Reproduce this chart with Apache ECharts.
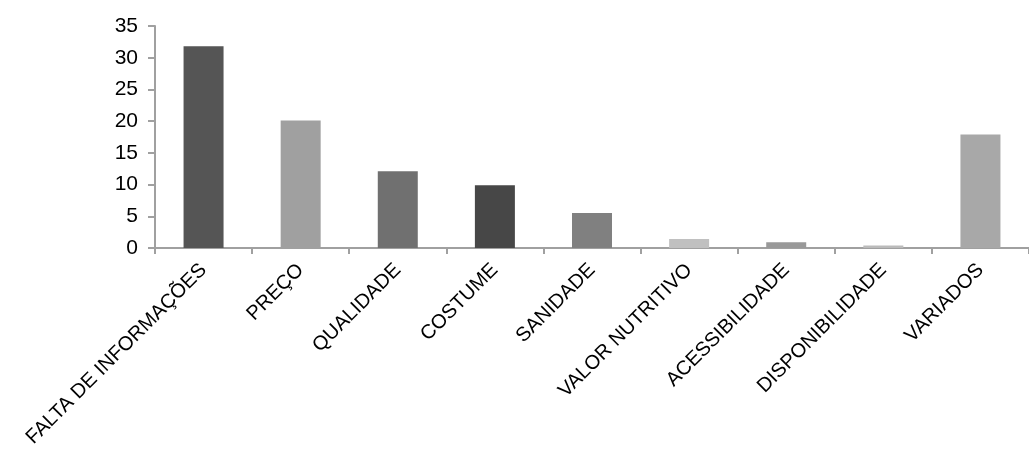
<!DOCTYPE html>
<html>
<head>
<meta charset="utf-8">
<script src="https://cdn.jsdelivr.net/npm/echarts@6/dist/echarts.min.js"></script>
<style>
  html, body { margin: 0; padding: 0; background: #fff; }
  #chart { width: 1029px; height: 459px; }
</style>
</head>
<body>
<div id="chart"></div>
<script>
// categorias e valores
var categorias = ['FALTA DE INFORMAÇÕES', 'PREÇO', 'QUALIDADE', 'COSTUME', 'SANIDADE',
    'VALOR NUTRITIVO', 'ACESSIBILIDADE', 'DISPONIBILIDADE', 'VARIADOS'];
var valores = [31.8, 20.1, 12.1, 9.9, 5.5, 1.4, 0.9, 0.4, 17.9];
var cores = ['#555555', '#a0a0a0', '#707070', '#474747', '#808080',
    '#c0c0c0', '#999999', '#bbbbbb', '#a8a8a8'];

var myChart = echarts.init(document.getElementById('chart'));

var dados = [];
for (var i = 0; i < valores.length; i++) {
    dados.push({ value: valores[i], itemStyle: { color: cores[i] } });
}

var option = {
    animation: false,
    grid: {
        left: 155,
        top: 26,
        width: 885,
        height: 222
    },
    xAxis: {
        type: 'category',
        data: categorias,
        axisLine: { lineStyle: { color: '#a0a0a0', width: 2 } },
        axisTick: { show: true, length: 6, lineStyle: { color: '#a0a0a0', width: 2 } },
        axisLabel: {
            interval: 0,
            rotate: 45,
            margin: 19,
            color: '#000',
            fontFamily: 'Liberation Sans, Arial, sans-serif',
            fontSize: 20
        },
        splitLine: { show: false }
    },
    yAxis: {
        type: 'value',
        min: 0,
        max: 35,
        interval: 5,
        axisLine: { show: true, lineStyle: { color: '#a0a0a0', width: 2 } },
        axisTick: { show: true, length: 7, lineStyle: { color: '#a0a0a0', width: 2 } },
        axisLabel: {
            margin: 17,
            color: '#000',
            fontFamily: 'Liberation Sans, Arial, sans-serif',
            fontSize: 21
        },
        splitLine: { show: false }
    },
    series: [
        {
            type: 'bar',
            barWidth: 40,
            data: dados
        }
    ]
};
myChart.setOption(option);
</script>
</body>
</html>
